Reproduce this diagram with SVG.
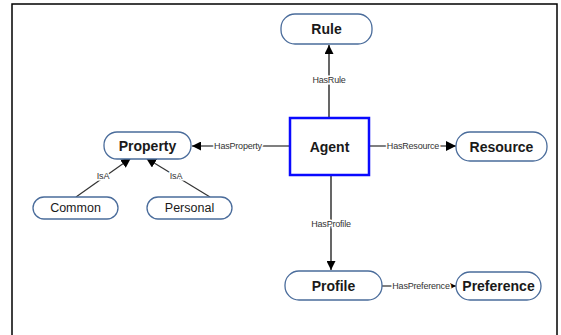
<svg xmlns="http://www.w3.org/2000/svg" width="561" height="335" viewBox="0 0 561 335">
<style>
.node{fill:#fff;stroke:#4a6c9b;stroke-width:1.3}
.agent{fill:#fff;stroke:#0a0aff;stroke-width:2.5}
.t{font-family:"Liberation Sans",Arial,sans-serif;font-size:14px;font-weight:bold;fill:#1a1a1a;text-anchor:middle;dominant-baseline:central}
.tn{font-family:"Liberation Sans",Arial,sans-serif;font-size:12.5px;fill:#1a1a1a;text-anchor:middle;dominant-baseline:central}
.e{stroke:#000;stroke-width:1.2;fill:none}
.eg{stroke:#333;stroke-width:1.2;fill:none}
.l{font-family:"Liberation Sans",Arial,sans-serif;font-size:9px;fill:#333;text-anchor:middle;dominant-baseline:central;stroke:#fff;stroke-width:3;paint-order:stroke;letter-spacing:-0.2px}
</style>
<defs>
<marker id="arr" viewBox="0 0 10 10" refX="10" refY="5" markerWidth="10" markerHeight="10" markerUnits="userSpaceOnUse" orient="auto">
<path d="M0,0 L10,5 L0,10 Z" fill="#000"/>
</marker>
<marker id="arrL" viewBox="0 0 10 10" refX="10" refY="5" markerWidth="12" markerHeight="9" markerUnits="userSpaceOnUse" orient="auto">
<path d="M0,0 L10,5 L0,10 Z" fill="#000"/>
</marker>
<marker id="arrS" viewBox="0 0 10 10" refX="10" refY="5" markerWidth="7" markerHeight="6" markerUnits="userSpaceOnUse" orient="auto">
<path d="M0,0 L10,5 L0,10 Z" fill="#000"/>
</marker>
</defs>
<rect x="0" y="0" width="561" height="335" fill="#fff"/>
<rect x="12" y="4" width="545" height="345" fill="none" stroke="#000" stroke-width="1.5"/>
<g id="connectors">
<line class="e" x1="329" y1="117" x2="329" y2="45" marker-end="url(#arrL)"/>
<text class="l" x="329" y="80">HasRule</text>
<line class="e" x1="289" y1="146" x2="192" y2="146" marker-end="url(#arrL)"/>
<text class="l" x="238" y="146">HasProperty</text>
<line class="e" x1="369" y1="146" x2="456" y2="146" marker-end="url(#arr)"/>
<text class="l" x="413" y="146">HasResource</text>
<line class="e" x1="331" y1="176" x2="331" y2="270" marker-end="url(#arrL)"/>
<text class="l" x="331" y="224">HasProfile</text>
<line class="e" x1="382" y1="286" x2="456" y2="286" marker-end="url(#arrS)"/>
<text class="l" x="421" y="286">HasPreference</text>
<line class="eg" x1="76" y1="197" x2="131" y2="158" marker-end="url(#arr)"/>
<text class="l" x="103" y="176">IsA</text>
<line class="eg" x1="210" y1="197" x2="146" y2="158" marker-end="url(#arr)"/>
<text class="l" x="176" y="176">IsA</text>
</g>
<g id="rule"><rect class="node" x="281" y="14" width="91" height="30" rx="14"/><text class="t" x="326.5" y="29">Rule</text></g>
<g id="agent"><rect class="agent" x="290" y="118" width="79" height="57"/><text class="t" x="329.5" y="147">Agent</text></g>
<g id="property"><rect class="node" x="104" y="132" width="87" height="27" rx="13"/><text class="t" x="147.5" y="145.5">Property</text></g>
<g id="resource"><rect class="node" x="456" y="132" width="91" height="29" rx="14"/><text class="t" x="501.5" y="146.5">Resource</text></g>
<g id="common"><rect class="node" x="33" y="197" width="85" height="22" rx="11"/><text class="tn" x="75.5" y="208">Common</text></g>
<g id="personal"><rect class="node" x="147" y="197" width="85" height="22" rx="11"/><text class="tn" x="189.5" y="208">Personal</text></g>
<g id="profile"><rect class="node" x="285" y="271" width="97" height="29" rx="14"/><text class="t" x="333.5" y="285.5">Profile</text></g>
<g id="preference"><rect class="node" x="456" y="272" width="85" height="28" rx="14"/><text class="t" x="498.5" y="286">Preference</text></g>
</svg>
